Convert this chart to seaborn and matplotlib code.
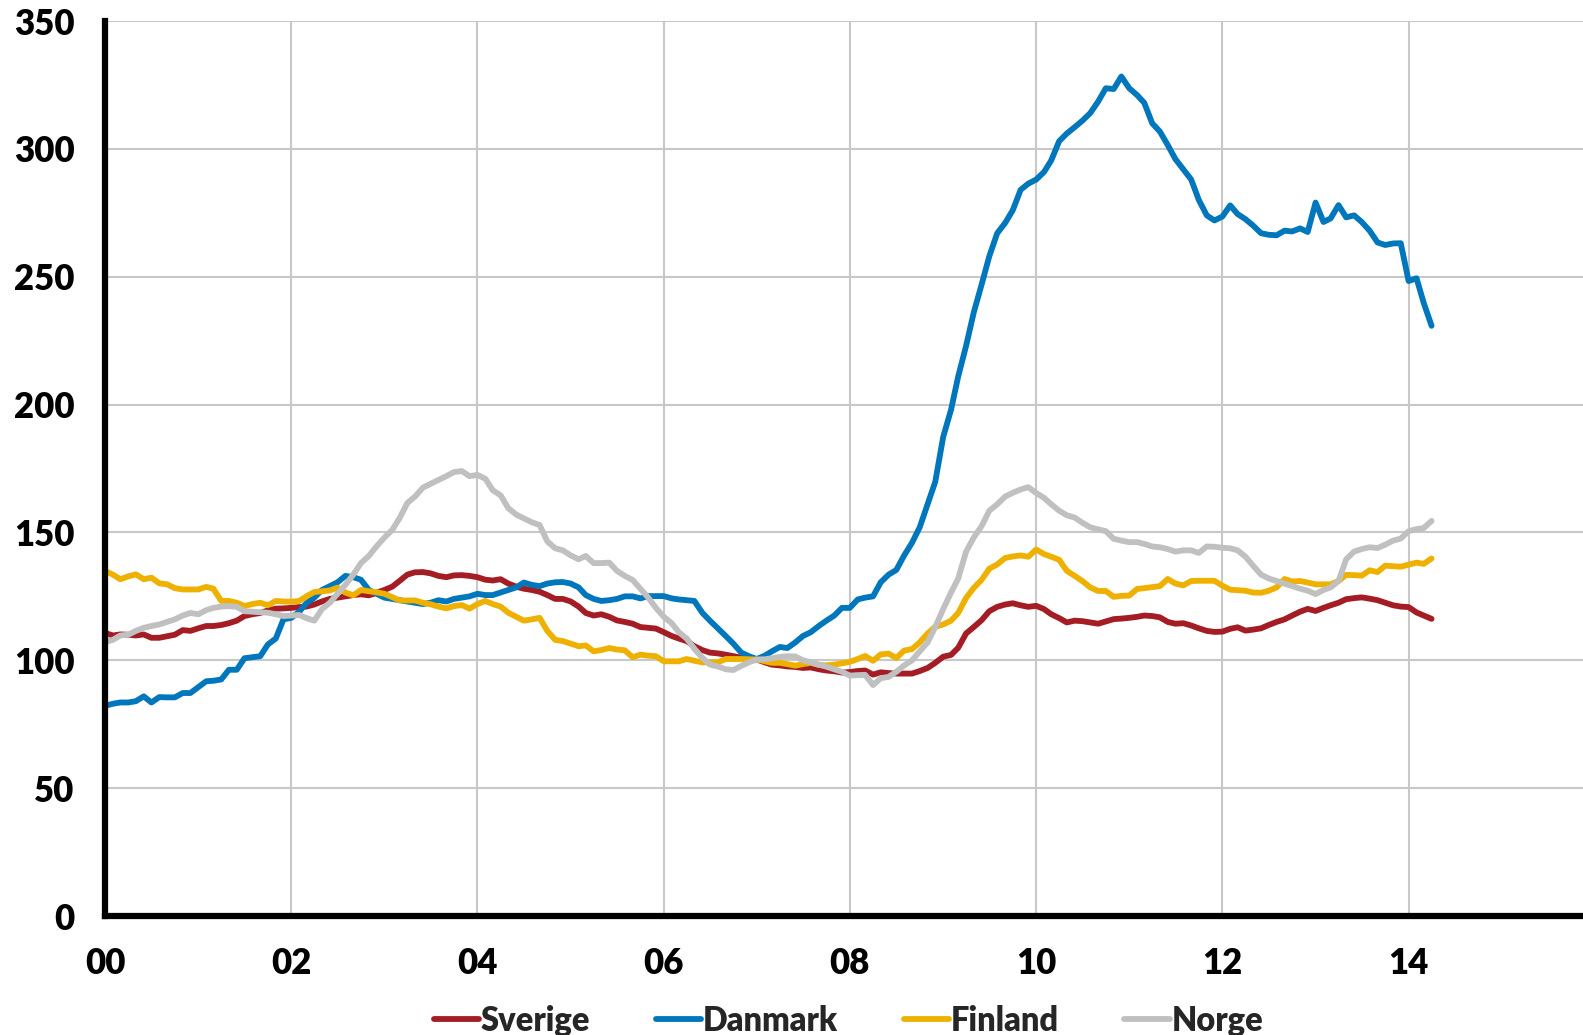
import pandas as pd
import matplotlib.pyplot as plt
import matplotlib.dates as mdates
import seaborn as sns

# Månedlige indeksverdier, jan 2000 - apr 2014
sverige = [
    110.7, 109.7, 110.1, 110.0, 109.7, 110.1, 108.8, 108.8, 109.4, 110.0, 111.8, 111.5,
    112.5, 113.4, 113.4, 113.8, 114.5, 115.5, 117.3, 118.0, 118.5, 119.5, 120.2, 120.3,
    120.5, 120.8, 121.0, 121.8, 123.0, 124.0, 124.5, 125.0, 125.5, 125.8, 125.4, 126.4,
    127.5, 128.8, 131.0, 133.5, 134.4, 134.5, 134.0, 133.0, 132.5, 133.2, 133.3, 133.0,
    132.5, 131.5, 131.2, 131.7, 130.0, 128.8, 128.0, 127.5, 126.8, 125.5, 124.0, 124.0,
    123.0, 121.0, 118.5, 117.5, 118.0, 117.0, 115.6, 115.0, 114.3, 113.0, 112.7, 112.4,
    111.0, 109.5, 108.5, 107.5, 105.5, 104.0, 103.0, 102.7, 102.2, 101.6, 101.0, 100.6,
    100.3, 99.2, 98.3, 98.0, 97.6, 97.4, 97.0, 97.2, 96.5, 96.0, 95.7, 95.2,
    95.4, 95.8, 96.0, 94.4, 95.3, 95.0, 94.8, 94.8, 94.8, 95.8, 97.0, 99.0,
    101.4, 102.1, 104.9, 110.5, 113.0, 115.7, 119.2, 120.9, 121.8, 122.3, 121.5, 120.9,
    121.3, 120.0, 118.0, 116.5, 114.8, 115.5, 115.3, 114.8, 114.3, 115.2, 116.1, 116.3,
    116.6, 117.0, 117.5, 117.3, 116.8, 115.0, 114.3, 114.5, 113.6, 112.5, 111.5, 111.1,
    111.2, 112.3, 112.9, 111.6, 112.0, 112.5, 113.8, 115.0, 116.0, 117.5, 119.0, 120.1,
    119.3, 120.5, 121.5, 122.5, 123.9, 124.3, 124.6, 124.1, 123.5, 122.5, 121.5, 121.0,
    120.8, 118.7, 117.5, 116.2,
]
danmark = [
    82.2, 83.0, 83.5, 83.5, 84.0, 85.9, 83.5, 85.6, 85.5, 85.5, 87.2, 87.2,
    89.5, 91.8, 92.0, 92.5, 96.3, 96.3, 100.8, 101.2, 101.6, 106.2, 108.5, 116.0,
    116.6, 119.0, 122.3, 124.5, 127.5, 129.0, 130.5, 133.0, 132.5, 131.5, 127.5, 126.0,
    124.5, 124.0, 123.5, 123.0, 122.5, 122.0, 122.5, 123.5, 123.0, 124.0, 124.5, 125.0,
    126.0, 125.5, 125.5, 126.5, 127.5, 128.5, 130.4, 129.5, 129.0, 130.0, 130.5, 130.6,
    130.0, 128.5, 125.5, 124.0, 123.2, 123.5, 124.0, 125.0, 125.0, 124.2, 125.1, 125.1,
    125.1, 124.2, 123.8, 123.5, 123.2, 118.6, 115.5, 112.5, 109.5, 106.5, 103.0, 101.6,
    100.5, 101.8, 103.5, 105.2, 104.8, 107.0, 109.5, 111.0, 113.4, 115.5, 117.5, 120.5,
    120.5, 123.8, 124.5, 125.0, 130.5, 133.5, 135.3, 141.0, 146.0, 152.0, 161.0, 169.8,
    187.3, 198.0, 211.0, 223.0, 236.0, 247.0, 258.0, 267.0, 271.0, 276.0, 284.0, 286.4,
    288.0, 291.0, 295.5, 303.0, 306.0, 308.5, 311.0, 314.0, 318.5, 323.7, 323.4, 328.3,
    323.7, 321.0, 318.0, 310.0, 306.8, 301.5, 296.0, 292.0, 288.0, 280.0, 274.0, 272.0,
    273.5, 277.9, 274.5, 272.5, 270.0, 267.0, 266.4, 266.2, 268.0, 267.7, 268.9, 267.5,
    279.0, 271.4, 272.8, 278.0, 273.2, 274.0, 271.4, 268.0, 263.4, 262.4, 263.0, 263.1,
    248.3, 249.4, 239.8, 230.8,
]
finland = [
    134.9, 133.5, 131.7, 132.8, 133.6, 131.7, 132.3, 130.1, 129.7, 128.2, 127.7, 127.7,
    127.7, 128.7, 128.0, 123.2, 123.2, 122.5, 121.2, 122.0, 122.5, 121.5, 123.2, 123.0,
    122.9, 123.2, 125.0, 126.7, 127.0, 127.3, 128.4, 126.5, 125.4, 127.5, 127.0, 126.6,
    126.0, 124.7, 123.4, 123.4, 123.4, 122.5, 121.9, 121.0, 120.3, 121.2, 121.6, 120.2,
    122.0, 123.2, 122.0, 121.0, 118.6, 117.0, 115.5, 116.0, 116.6, 111.5, 108.0, 107.5,
    106.5, 105.5, 105.8, 103.5, 104.0, 104.8, 104.2, 103.9, 101.2, 102.2, 101.8, 101.6,
    99.6, 99.6, 99.6, 100.5, 99.8, 99.2, 99.2, 99.2, 100.5, 100.5, 100.5, 100.4,
    100.3, 99.6, 99.0, 99.0, 98.5, 97.9, 98.5, 99.0, 98.2, 98.0, 98.3, 98.8,
    99.4, 100.5, 101.7, 99.8, 102.3, 102.6, 100.9, 103.8, 104.4, 107.0, 110.5, 113.1,
    114.0, 115.5, 118.5, 124.4, 128.3, 131.5, 135.8, 137.5, 140.0, 140.6, 141.0, 140.5,
    143.3, 141.5, 140.5, 139.3, 135.0, 133.0, 131.0, 128.5, 127.1, 127.1, 124.8, 125.2,
    125.3, 127.9, 128.2, 128.6, 129.0, 131.8, 130.0, 129.3, 131.0, 131.1, 131.1, 131.1,
    129.2, 127.6, 127.4, 127.2, 126.5, 126.4, 127.2, 128.5, 131.8, 130.8, 131.0, 130.4,
    129.7, 129.7, 129.7, 131.0, 133.4, 133.3, 133.1, 135.2, 134.5, 137.0, 136.8, 136.6,
    137.4, 138.2, 137.7, 139.8,
]
norge = [
    107.1, 108.0, 109.7, 110.0, 111.5, 112.7, 113.4, 114.0, 115.0, 116.0, 117.5, 118.5,
    118.0, 119.6, 120.5, 121.0, 121.2, 120.9, 119.2, 119.0, 118.8, 118.6, 118.0, 117.3,
    117.5, 117.7, 116.5, 115.5, 120.0, 122.5, 126.0, 129.5, 133.5, 138.0, 140.8, 144.5,
    148.0, 151.0, 155.5, 161.5, 164.0, 167.5, 169.0, 170.5, 172.0, 173.6, 174.0, 172.0,
    172.5, 171.0, 166.5, 164.5, 159.5, 157.0, 155.5, 154.0, 152.9, 146.5, 143.8, 143.0,
    141.0, 139.5, 140.8, 138.0, 138.0, 138.2, 135.0, 133.0, 131.4, 128.0, 124.5, 120.5,
    117.0, 114.5, 111.0, 108.5, 104.5, 101.0, 98.3, 97.6, 96.5, 96.2, 97.8, 99.2,
    100.3, 100.4, 100.8, 101.3, 101.6, 101.5, 100.0, 99.2, 98.3, 97.5, 96.5, 95.5,
    94.0, 94.2, 94.3, 90.3, 93.0, 93.5, 95.5, 98.0, 100.0, 103.5, 107.0, 113.0,
    120.0, 126.5, 132.0, 142.5, 148.0, 152.5, 158.5, 161.0, 164.0, 165.5, 166.8, 167.7,
    165.4, 163.5, 161.0, 158.5, 156.7, 155.8, 153.8, 152.0, 151.2, 150.5, 147.5, 146.8,
    146.2, 146.2, 145.5, 144.5, 144.2, 143.5, 142.5, 143.0, 143.0, 142.0, 144.5, 144.4,
    144.0, 143.8, 143.0, 140.5, 137.0, 133.5, 132.0, 131.0, 130.0, 129.0, 128.0, 127.2,
    125.9, 127.5, 128.5, 131.0, 139.5, 142.5, 143.5, 144.2, 143.9, 145.2, 146.8, 147.6,
    150.5, 151.3, 151.7, 154.5,
]

land = ['Sverige', 'Danmark', 'Finland', 'Norge']
farger = ['#a51d24', '#0077bd', '#efb100', '#c0c0c0']
y_ticks = [0, 50, 100, 150, 200, 250, 300, 350]

datoer = pd.date_range('2000-01-01', periods=len(sverige), freq='MS')
df = pd.concat([
    pd.DataFrame({'dato': datoer, 'verdi': verdier, 'land': navn})
    for navn, verdier in zip(land, [sverige, danmark, finland, norge])
])

sns.set_theme(style='white')
plt.rcParams['font.family'] = ['Lato', 'DejaVu Sans']
plt.rcParams['font.weight'] = 'bold'

fig = plt.figure(figsize=(15.83, 10.35), dpi=100)
ax = fig.add_axes([105 / 1583, 1 - 916 / 1035, 1 - 105 / 1583, 895 / 1035])

sns.lineplot(data=df, x='dato', y='verdi', hue='land', hue_order=land,
             palette=farger, linewidth=4.2, ax=ax, solid_capstyle='round')

ax.set_xlim(pd.Timestamp('2000-01-01'), pd.Timestamp('2015-11-16'))
ax.set_ylim(0, 350)
ax.set_yticks(y_ticks)
ax.set_xticks(pd.date_range('2000-01-01', '2014-01-01', freq='2YS'))
ax.xaxis.set_major_formatter(mdates.DateFormatter('%y'))
ax.set_xlabel('')
ax.set_ylabel('')

ax.grid(True, color='#c8c8c8', linewidth=1.5)
ax.set_axisbelow(True)
for side in ['top', 'right']:
    ax.spines[side].set_visible(False)
for side in ['left', 'bottom']:
    ax.spines[side].set_color('black')
    ax.spines[side].set_linewidth(4.5)
ax.tick_params(axis='both', direction='in', length=7, width=3, color='black',
               labelsize=25, labelcolor='black')
ax.tick_params(axis='x', pad=22)
ax.tick_params(axis='y', pad=22)
for lbl in ax.get_xticklabels() + ax.get_yticklabels():
    lbl.set_fontweight('heavy')

handles, labels = ax.get_legend_handles_labels()
ax.get_legend().remove()
fig.legend(handles, labels, loc='center', bbox_to_anchor=(0.536, 0.014), ncol=4,
           frameon=False, handlelength=1.4, handletextpad=0.05,
           columnspacing=2.0, prop={'weight': 'heavy', 'size': 23.5})

plt.savefig('out.png', dpi=100)
